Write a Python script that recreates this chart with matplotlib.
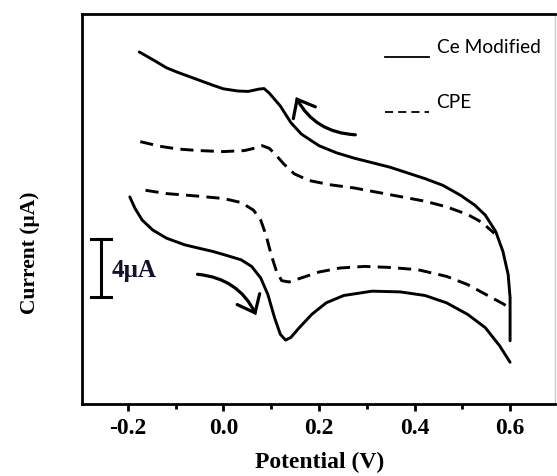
import matplotlib
matplotlib.use("Agg")
import matplotlib.pyplot as plt
from matplotlib.patches import FancyArrowPatch
from matplotlib.ticker import MultipleLocator

# ---- data (V, uA; arbitrary offset) ----
ce_fwd_v = [-0.176, -0.148, -0.119, -0.096, -0.059, -0.022, 0.000, 0.030, 0.052, 0.074, 0.085,
            0.096, 0.119, 0.141, 0.163, 0.200, 0.237, 0.274, 0.348, 0.422, 0.459, 0.496, 0.526,
            0.548, 0.570, 0.585, 0.596, 0.600, 0.600]
ce_fwd_i = [24.46, 23.93, 23.36, 23.05, 22.60, 22.15, 21.90, 21.75, 21.72, 21.88, 21.92,
            21.60, 20.71, 19.56, 18.76, 17.95, 17.45, 17.08, 16.46, 15.66, 15.20, 14.51, 13.82,
            13.13, 11.98, 10.60, 8.99, 7.38, 4.39]
ce_rev_v = [-0.196, -0.185, -0.170, -0.148, -0.119, -0.081, -0.052, -0.022, 0.007, 0.037, 0.059,
            0.078, 0.093, 0.107, 0.119, 0.130, 0.141, 0.159, 0.185, 0.215, 0.252, 0.311, 0.370,
            0.422, 0.467, 0.511, 0.548, 0.578, 0.600]
ce_rev_i = [14.39, 13.59, 12.78, 12.09, 11.52, 11.06, 10.83, 10.60, 10.32, 10.02, 9.56,
            8.76, 7.61, 6.00, 4.85, 4.44, 4.62, 5.31, 6.23, 7.03, 7.54, 7.84, 7.79,
            7.54, 7.03, 6.23, 5.31, 4.05, 2.90]
cpe_fwd_v = [-0.174, -0.133, -0.096, -0.052, 0.000, 0.044, 0.067, 0.081, 0.096, 0.111, 0.126,
             0.148, 0.178, 0.222, 0.274, 0.348, 0.422, 0.467, 0.511, 0.541, 0.567]
cpe_fwd_i = [18.23, 17.91, 17.72, 17.61, 17.54, 17.61, 17.79, 17.95, 17.77, 17.26, 16.69,
             16.00, 15.54, 15.24, 15.01, 14.55, 14.09, 13.70, 13.17, 12.62, 11.86]
cpe_rev_v = [-0.163, -0.119, -0.059, 0.000, 0.037, 0.063, 0.078, 0.089, 0.100, 0.111, 0.122,
             0.137, 0.163, 0.200, 0.244, 0.296, 0.348, 0.407, 0.467, 0.511, 0.556, 0.585, 0.596]
cpe_rev_i = [14.85, 14.62, 14.46, 14.28, 14.00, 13.47, 12.78, 11.75, 10.37, 9.22, 8.57,
             8.48, 8.76, 9.17, 9.45, 9.56, 9.49, 9.33, 8.87, 8.30, 7.49, 6.97, 6.74]

x_ticks = [-0.2, 0.0, 0.2, 0.4, 0.6]
x_ticklabels = ["-0.2", "0.0", "0.2", "0.4", "0.6"]
legend_labels = ["Ce Modified", "CPE"]
scale_bar_ua = 4

W, H = 557, 476
fig = plt.figure(figsize=(W / 100, H / 100), dpi=100)
left_px, right_px, top_px, bot_px = 82, 555, 14, 404
ax = fig.add_axes([left_px / W, 1 - bot_px / H, (right_px - left_px) / W, (bot_px - top_px) / H])

lw = 2.1
dash = (0, (4.5, 2.5))
ax.plot(ce_fwd_v, ce_fwd_i, color="black", lw=lw, solid_capstyle="round", solid_joinstyle="round")
ax.plot(ce_rev_v, ce_rev_i, color="black", lw=lw, solid_capstyle="round", solid_joinstyle="round")
ax.plot(cpe_fwd_v, cpe_fwd_i, color="black", lw=lw, linestyle=dash)
ax.plot(cpe_rev_v, cpe_rev_i, color="black", lw=lw, linestyle=dash)

# arrows
arrow_style = "->,head_length=0.55,head_width=0.45"
ax.add_patch(FancyArrowPatch((0.282, 18.7), (0.149, 21.5), connectionstyle="arc3,rad=-0.3",
                             arrowstyle=arrow_style, mutation_scale=20,
                             lw=2.3, color="black", capstyle="round", joinstyle="miter"))
ax.add_patch(FancyArrowPatch((-0.06, 9.03), (0.071, 6.0), connectionstyle="arc3,rad=-0.3",
                             arrowstyle=arrow_style, mutation_scale=20,
                             lw=2.3, color="black", capstyle="round", joinstyle="miter"))

# scale bar
sb_x, sb_y0 = -0.256, 7.45
ax.plot([sb_x, sb_x], [sb_y0, sb_y0 + scale_bar_ua], color="black", lw=2.2)
ax.plot([sb_x - 0.021, sb_x + 0.021], [sb_y0, sb_y0], color="black", lw=2.2)
ax.plot([sb_x - 0.021, sb_x + 0.021], [sb_y0 + scale_bar_ua] * 2, color="black", lw=2.2)
ax.text(-0.234, 9.25, f"{scale_bar_ua}\u03bcA", family="Liberation Serif", fontweight="bold",
        fontsize=18, va="center", ha="left", color="#12122e")

# legend-like labels
ax.plot([0.641, 0.734], [0.8905, 0.8905], transform=ax.transAxes, color="black", lw=1.3)
ax.plot([0.641, 0.734], [0.7495, 0.7495], transform=ax.transAxes, color="black", lw=1.3,
        linestyle=(0, (4.5, 2.8)))
ax.text(0.7495, 0.913, legend_labels[0], transform=ax.transAxes, family="Lato", fontsize=13.8,
        va="center", ha="left")
ax.text(0.7495, 0.772, legend_labels[1], transform=ax.transAxes, family="Lato", fontsize=13.8,
        va="center", ha="left")

ax.set_xlim(-0.296, 0.694)
ax.set_ylim(0, 27.1)
ax.set_xticks(x_ticks)
ax.set_xticklabels(x_ticklabels, family="Liberation Serif", fontweight="bold", fontsize=17)
ax.xaxis.set_minor_locator(MultipleLocator(0.1))
ax.tick_params(axis="x", which="major", direction="out", length=5, width=2, pad=5)
ax.tick_params(axis="x", which="minor", direction="out", length=3.6, width=2)
ax.set_yticks([])

for s in ["left", "top", "bottom"]:
    ax.spines[s].set_linewidth(2.0)
ax.spines["right"].set_color("#cccccc")
ax.spines["right"].set_linewidth(1.0)

ax.set_xlabel("Potential (V)", family="Liberation Serif", fontweight="bold", fontsize=17)
ax.xaxis.set_label_coords(0.503, -0.151)
ax.xaxis.label.set_va("center")
ax.set_ylabel("Current (\u03bcA)", family="Liberation Serif", fontweight="bold", fontsize=15.5)
ax.yaxis.set_label_coords(-0.11, 0.387)
ax.yaxis.label.set_va("center")

fig.savefig("out.png", dpi=100)
